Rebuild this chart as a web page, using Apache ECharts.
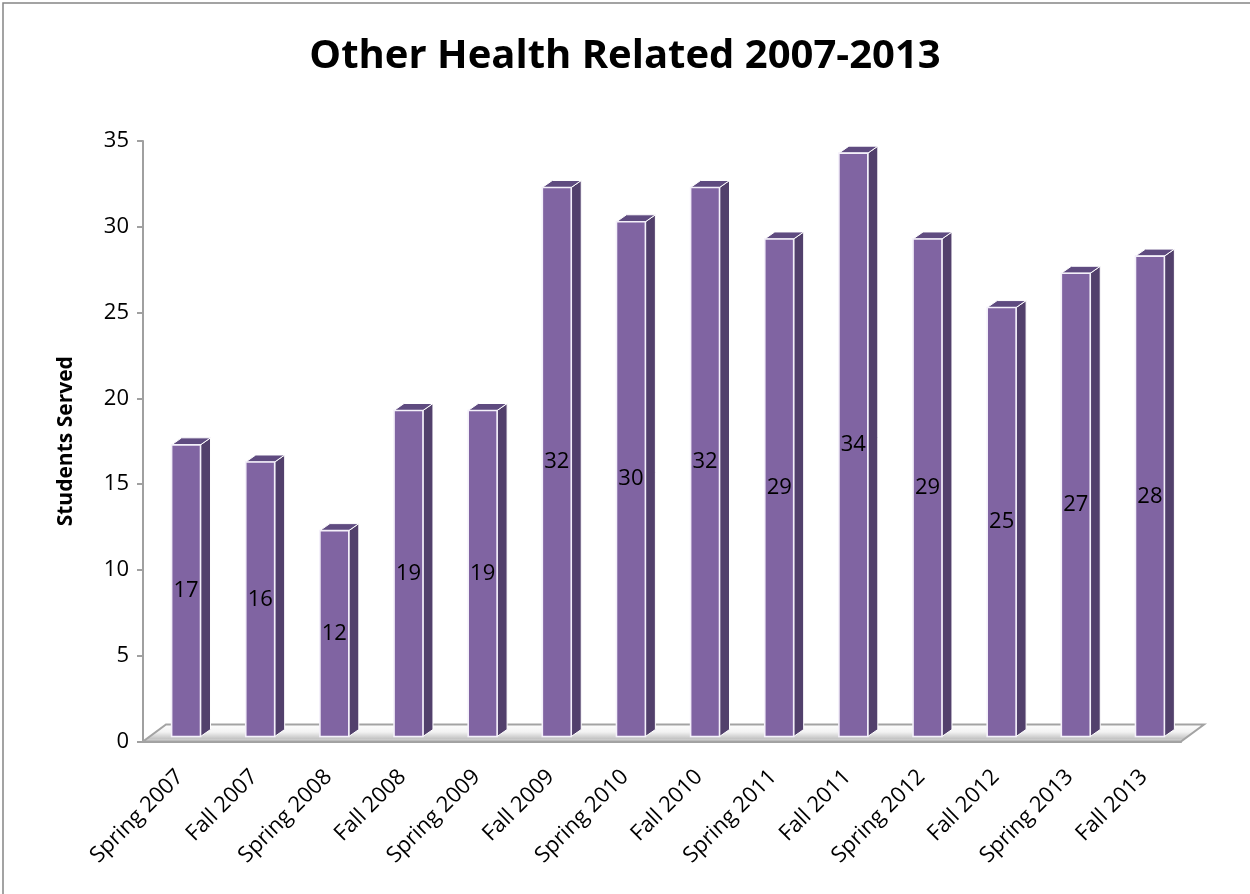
<!DOCTYPE html>
<html>
<head>
<meta charset="utf-8">
<script src="https://cdn.jsdelivr.net/npm/echarts@6/dist/echarts.min.js"></script>
<style>
  html, body { margin: 0; padding: 0; background: #fff; }
  #chart { width: 1250px; height: 894px; }
</style>
</head>
<body>
<div id="chart"></div>
<script>
// Semesters and number of students served in each
const semesters = [
  'Spring 2007', 'Fall 2007', 'Spring 2008', 'Fall 2008', 'Spring 2009',
  'Fall 2009', 'Spring 2010', 'Fall 2010', 'Spring 2011', 'Fall 2011',
  'Spring 2012', 'Fall 2012', 'Spring 2013', 'Fall 2013'
];
const studentsServed = [17, 16, 12, 19, 19, 32, 30, 32, 29, 34, 29, 25, 27, 28];

const FONT = '"Open Sans", Lato, sans-serif';

// 3D look parameters (pixels)
const BAR_SHIFT_X = 6, BAR_SHIFT_Y = -5;   // bars stand a little back on the floor
const DEPTH_X = 10, DEPTH_Y = -7;          // bar depth
const FLOOR_DX = 23, FLOOR_DY = -17;       // floor depth

const chart = echarts.init(document.getElementById('chart'), null, { renderer: 'canvas' });

function renderFloor(params, api) {
  const n = semesters.length;
  const bw = api.size([1, 0])[0];
  const left = api.coord([0, 0]);
  const right = api.coord([n - 1, 0]);
  const x0 = left[0] - bw / 2, x1 = right[0] + bw / 2, y = left[1];
  return {
    type: 'polygon',
    shape: { points: [[x0, y], [x1, y], [x1 + FLOOR_DX, y + FLOOR_DY], [x0 + FLOOR_DX, y + FLOOR_DY]] },
    style: {
      fill: new echarts.graphic.LinearGradient(0, 0, 0, 1, [
        { offset: 0, color: '#ffffff' },
        { offset: 0.45, color: '#f2f2f2' },
        { offset: 0.8, color: '#c4c4c4' },
        { offset: 1, color: '#e6e6e6' }
      ]),
      stroke: '#a3a3a3',
      lineWidth: 2
    }
  };
}

function renderBar(params, api) {
  const idx = api.value(0);
  const val = api.value(1);
  const bw = api.size([1, 0])[0];
  const w = bw * 0.39;
  const base = api.coord([idx, 0]);
  const top = api.coord([idx, val]);
  const xl = base[0] - w / 2 + BAR_SHIFT_X;
  const xr = xl + w;
  const yb = base[1] + BAR_SHIFT_Y;
  const yt = top[1] + BAR_SHIFT_Y;
  return {
    type: 'group',
    children: [
      {
        type: 'polygon',
        shape: { points: [[xr, yt], [xr + DEPTH_X, yt + DEPTH_Y], [xr + DEPTH_X, yb + DEPTH_Y], [xr, yb]] },
        style: { fill: '#52406c', stroke: '#ffffff', lineWidth: 1 }
      },
      {
        type: 'polygon',
        shape: { points: [[xl, yt], [xl + DEPTH_X, yt + DEPTH_Y], [xr + DEPTH_X, yt + DEPTH_Y], [xr, yt]] },
        style: { fill: '#5f4b80', stroke: '#ffffff', lineWidth: 1 }
      },
      {
        type: 'rect',
        shape: { x: xl, y: yt, width: w, height: yb - yt },
        style: { fill: '#8064a2', stroke: '#f4f0fa', lineWidth: 1.6 }
      },
      {
        type: 'text',
        style: {
          text: String(val),
          x: xl + w / 2,
          y: (yt + yb) / 2,
          align: 'center',
          verticalAlign: 'middle',
          fill: '#000',
          font: '22px ' + FONT
        }
      }
    ]
  };
}

chart.setOption({
  animation: false,
  backgroundColor: '#ffffff',
  title: {
    text: 'Other Health Related 2007-2013',
    left: 'center',
    top: 32,
    textStyle: { fontFamily: FONT, fontWeight: 'bold', fontSize: 40, color: '#000' }
  },
  graphic: [{
    type: 'rect',
    shape: { x: 3, y: 3, width: 1300, height: 1000 },
    style: { fill: 'none', stroke: '#858585', lineWidth: 1.5 },
    silent: true
  }],
  grid: { left: 143, right: 69, top: 141, bottom: 152.5 },
  xAxis: {
    type: 'category',
    data: semesters,
    boundaryGap: true,
    axisLine: { lineStyle: { color: '#a0a0a0', width: 2 } },
    axisTick: { length: 8, lineStyle: { color: '#a0a0a0', width: 2 } },
    axisLabel: {
      interval: 0,
      rotate: 45,
      margin: 32,
      fontFamily: FONT,
      fontSize: 22,
      color: '#000'
    }
  },
  yAxis: {
    type: 'value',
    min: 0,
    max: 35,
    interval: 5,
    name: 'Students Served',
    nameLocation: 'middle',
    nameGap: 66,
    nameTextStyle: { fontFamily: FONT, fontWeight: 'bold', fontSize: 21, color: '#000' },
    axisLine: { show: true, lineStyle: { color: '#a0a0a0', width: 2 } },
    axisTick: { show: true, length: 6, lineStyle: { color: '#a0a0a0', width: 2 } },
    splitLine: { show: false },
    axisLabel: { margin: 14, fontFamily: FONT, fontSize: 22, color: '#000' }
  },
  series: [
    {
      type: 'custom',
      name: 'floor',
      data: [[0, 0]],
      encode: { x: 0, y: 1 },
      renderItem: renderFloor,
      z: 1,
      silent: true
    },
    {
      type: 'custom',
      name: 'Students Served',
      data: studentsServed.map((v, i) => [i, v]),
      encode: { x: 0, y: 1 },
      renderItem: renderBar,
      z: 2
    }
  ]
});
</script>
</body>
</html>
